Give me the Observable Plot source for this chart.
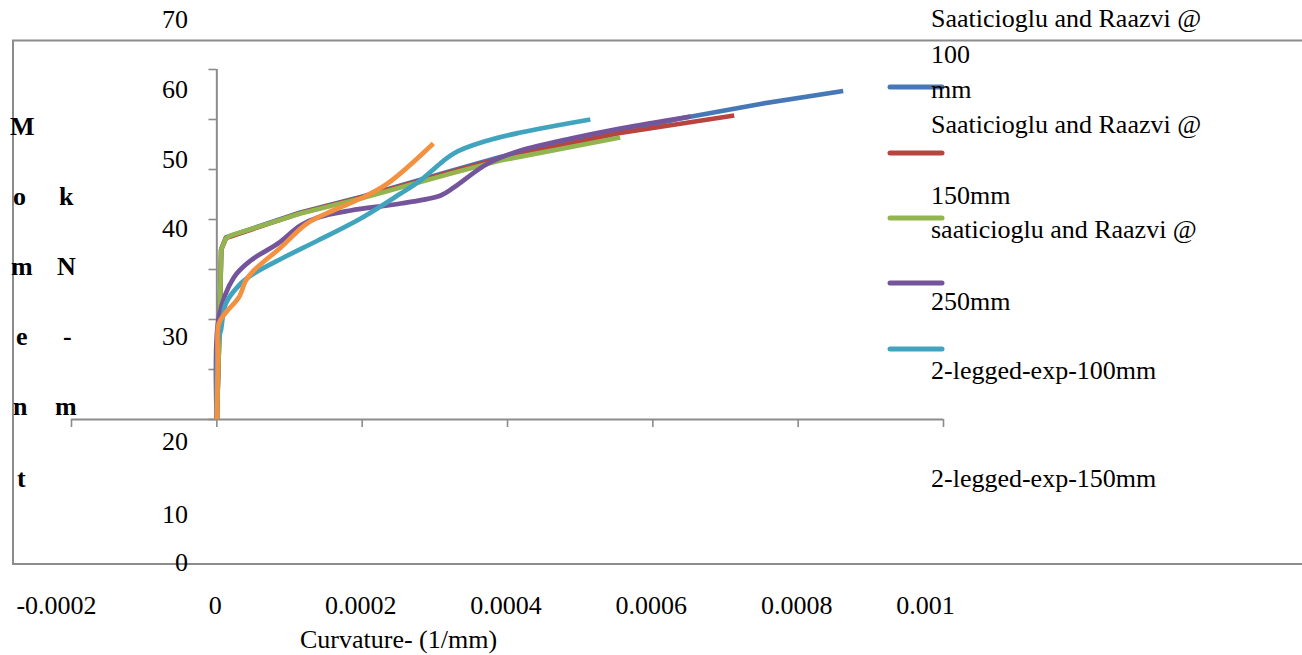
<!DOCTYPE html>
<html>
<head>
<meta charset="utf-8">
<script src="https://cdn.jsdelivr.net/npm/d3@7"></script>
<script src="https://cdn.jsdelivr.net/npm/@observablehq/plot@0.6"></script>
<style>
html, body { margin: 0; padding: 0; background: #fff; }
#chart { position: relative; width: 1302px; height: 655px; overflow: hidden; font-family: "Liberation Serif", "Times New Roman", serif; }
#chart svg { position: absolute; left: 0; top: 0; }
</style>
</head>
<body>
<div id="chart"></div>
<script>
// ---------------- DATA ----------------
const seriesNames = [
  "Saaticioglu and Raazvi @ 100 mm",
  "Saaticioglu and Raazvi @ 150mm",
  "saaticioglu and Raazvi @ 250mm",
  "2-legged-exp-100mm",
  "2-legged-exp-150mm",
  "2-legged-exp-250mm"
];
const seriesColors = ["#4677b6", "#b9433f", "#92b550", "#74559b", "#40a4be", "#f39140"];

// [curvature (1/mm), moment (kN-m)]
const satic100 = [[0,0],[0.000004,20],[0.000006,34],[0.0000125,36.4],[0.000115,41.4],[0.000198,44.5],[0.000322,49.7],[0.00039,52.5],[0.000555,57.6],[0.000638,60.2],[0.000748,63.1],[0.000862,65.7]];
const satic150 = [[0,0],[0.000004,20],[0.000006,34],[0.0000125,36.3],[0.000115,41.3],[0.000198,44.4],[0.000322,49.5],[0.00039,52.2],[0.000555,57.3],[0.00064,59.2],[0.000712,60.8]];
const satic250 = [[0,0],[0.000004,20],[0.000006,34],[0.0000125,36.2],[0.000019,36.8],[0.000115,41.2],[0.000198,44.2],[0.000322,49.2],[0.00039,51.8],[0.000555,56.4]];
const exp100 = [[0,0],[0.0000027,20.4],[0.0000234,28.4],[0.0000467,31.8],[0.000084,35.2],[0.000115,38.8],[0.000139,40.4],[0.000184,41.8],[0.000253,43.2],[0.000308,44.8],[0.000326,46.4],[0.000373,51.2],[0.000418,53.8],[0.000487,56.2],[0.000555,58.2],[0.000652,60.6]];
const exp150 = [[0,0],[0.000002,16],[0.0000055,17.8],[0.0000124,23.2],[0.000033,27.2],[0.000051,29.2],[0.000092,32.4],[0.000139,35.8],[0.000198,40.2],[0.000253,45.2],[0.00028,47.8],[0.000326,53.2],[0.000373,55.8],[0.000418,57.4],[0.000514,60.0]];
const exp250 = [[0,0],[0.0000014,11.2],[0.0000027,19.2],[0.0000124,21.4],[0.0000302,24.4],[0.0000399,27.8],[0.0000509,29.8],[0.000088,34.4],[0.000124,39.2],[0.00016,41.8],[0.000198,44.2],[0.000235,47.2],[0.000298,55.2]];
const seriesData = [satic100, satic150, satic250, exp100, exp150, exp250];

const xTicks = [-0.0002, 0, 0.0002, 0.0004, 0.0006, 0.0008, 0.001];
const xTickLabels = ["-0.0002", "0", "0.0002", "0.0004", "0.0006", "0.0008", "0.001"];
const yTicks = [0, 10, 20, 30, 40, 50, 60, 70];
const yTickLabels = ["70", "60", "50", "40", "30", "20", "10", "0"];
const yTitleLeft = ["M", "o", "m", "e", "n", "t"];
const yTitleRight = ["k", "N", "-", "m"];
const xTitle = "Curvature- (1/mm)";
const legendTexts = ["Saaticioglu and Raazvi @", "100", "mm", "Saaticioglu and Raazvi @", "150mm", "saaticioglu and Raazvi @", "250mm", "2-legged-exp-100mm", "2-legged-exp-150mm"];

// ---------------- TABLE ----------------
const table = seriesData.flatMap((pts, i) => pts.map(([c, m]) => ({ series: seriesNames[i], c, m })));

// ---------------- PLOT ----------------
const axisGray = "#8c8c8c";
const font = "'Liberation Serif', 'Times New Roman', serif";
const lineMarks = seriesNames.map((name, i) =>
  Plot.line(table.filter(d => d.series === name), {
    x: "c", y: "m", stroke: seriesColors[i], strokeWidth: 4.7,
    curve: i < 3 ? "linear" : "catmull-rom", strokeLinecap: "butt", strokeLinejoin: "round"
  })
);
const tickRows = xTicks.map((v, i) => ({ v, label: xTickLabels[i], i }));

const chart = Plot.plot({
  width: 1302, height: 655,
  marginLeft: 71, marginRight: 359, marginTop: 69, marginBottom: 236,
  style: { fontFamily: font, fontSize: "26px", color: "#000", background: "transparent", overflow: "visible" },
  x: { domain: [xTicks[0], xTicks[xTicks.length - 1]], axis: null },
  y: { domain: [yTicks[0], yTicks[yTicks.length - 1]], axis: null },
  marks: [
    Plot.ruleY([0], { x1: () => xTicks[0], x2: () => xTicks[xTicks.length - 1], stroke: axisGray, strokeWidth: 2 }),
    Plot.ruleX([0], { y1: () => yTicks[0], y2: () => yTicks[yTicks.length - 1], stroke: axisGray, strokeWidth: 2 }),
    Plot.axisX(xTicks, { tickSize: 8, tickFormat: () => "", stroke: axisGray, strokeWidth: 1.6, label: null }),
    Plot.axisY(yTicks, { anchor: "left", tickSize: 8, tickFormat: () => "", stroke: axisGray, strokeWidth: 1.6, label: null, dx: 145.5 }),
    ...lineMarks,
    Plot.text(tickRows.filter(d => d.i > 0 && d.i < xTicks.length - 1), { x: "v", text: "label", frameAnchor: "bottom", lineAnchor: "bottom", dy: 194, dx: -1.5, fontSize: 26, fill: "#000" }),
    Plot.text(tickRows.filter(d => d.i === 0), { x: "v", text: "label", frameAnchor: "bottom", lineAnchor: "bottom", dy: 194, dx: -15, fontSize: 26, fill: "#000" }),
    Plot.text(tickRows.filter(d => d.i === xTicks.length - 1), { x: "v", text: "label", frameAnchor: "bottom", lineAnchor: "bottom", dy: 194, dx: -18, fontSize: 26, fill: "#000" })
  ]
});
document.getElementById("chart").appendChild(chart);

// ---------------- OVERLAY (frame, misplaced labels, legend) ----------------
const ov = d3.create("svg").attr("width", 1302).attr("height", 655)
  .style("pointer-events", "none")
  .style("font-family", font).style("font-size", "26px");

ov.append("path").attr("d", "M1302,40.5H13V564H1302").attr("fill", "none").attr("stroke", axisGray).attr("stroke-width", 2);

// y tick labels (as rendered in the source, offset from their ticks)
const yLabelBaselines = [28, 98, 168, 237, 345, 450, 523, 571];
ov.append("g").attr("text-anchor", "end").selectAll("text").data(yTickLabels).join("text")
  .attr("x", 188).attr("y", (d, i) => yLabelBaselines[i]).attr("fill", "#000").text(d => d);

// y title, split into two bold columns
const leftPos = [[10, 135], [13, 205], [11, 275], [16, 345], [13, 415], [17, 487]];
const rightPos = [[59, 205], [57, 275], [63, 345], [55, 415]];
ov.append("g").attr("font-weight", "bold").selectAll("text").data(yTitleLeft).join("text")
  .attr("x", (d, i) => leftPos[i][0]).attr("y", (d, i) => leftPos[i][1]).text(d => d);
ov.append("g").attr("font-weight", "bold").selectAll("text").data(yTitleRight).join("text")
  .attr("x", (d, i) => rightPos[i][0]).attr("y", (d, i) => rightPos[i][1]).text(d => d);

// x title
ov.append("text").attr("x", 300).attr("y", 648).text(xTitle);

// legend swatches
const swatchY = [87, 153, 218, 283, 349];
ov.append("g").selectAll("line").data(swatchY).join("line")
  .attr("x1", 890).attr("x2", 942).attr("y1", d => d).attr("y2", d => d)
  .attr("stroke", (d, i) => seriesColors[i]).attr("stroke-width", 5).attr("stroke-linecap", "round");
const legendBaselines = [27, 63, 98, 133, 204, 238, 310, 379, 487];
ov.append("g").selectAll("text").data(legendTexts).join("text")
  .attr("x", 931).attr("y", (d, i) => legendBaselines[i]).attr("fill", "#000").text(d => d);

document.getElementById("chart").appendChild(ov.node());
</script>
</body>
</html>
